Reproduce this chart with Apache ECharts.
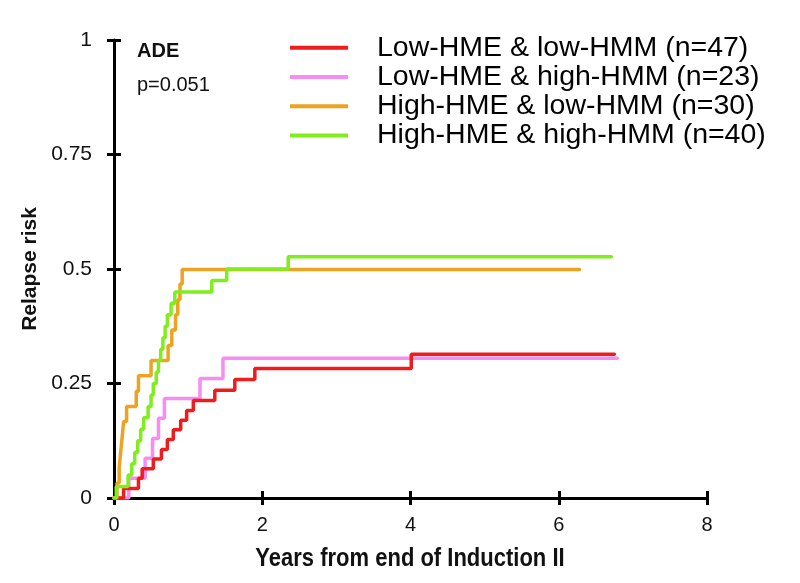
<!DOCTYPE html>
<html>
<head>
<meta charset="utf-8">
<script src="https://cdn.jsdelivr.net/npm/echarts@6/dist/echarts.min.js"></script>
<style>
html,body{margin:0;padding:0;background:#fff;}
#chart{width:800px;height:583px;}
</style>
</head>
<body>
<div id="chart"></div>
<script>
const seriesNames = ['Low-HME & low-HMM (n=47)','Low-HME & high-HMM (n=23)','High-HME & low-HMM (n=30)','High-HME & high-HMM (n=40)'];
const xTicks = [0, 2, 4, 6, 8];
const yTicks = [0, 0.25, 0.5, 0.75, 1];

const redT = [0, 0.13, 0.33, 0.38, 0.53, 0.64, 0.72, 0.80, 0.90, 0.98, 1.07, 1.36, 1.63, 1.90, 4.01, 6.75];
const redV = [0, 0.021, 0.043, 0.064, 0.085, 0.106, 0.128, 0.149, 0.170, 0.191, 0.213, 0.235, 0.259, 0.283, 0.314, 0.314];

const pinkT = [0, 0.20, 0.42, 0.52, 0.60, 0.68, 1.16, 1.47, 6.79];
const pinkV = [0, 0.043, 0.087, 0.130, 0.174, 0.217, 0.261, 0.305, 0.305];

const orangeT = [0, 0.04, 0.07, 0.09, 0.11, 0.13, 0.17, 0.30, 0.33, 0.50, 0.73, 0.78, 0.83, 0.86, 0.89, 0.92, 6.28];
const orangeV = [0, 0.033, 0.067, 0.100, 0.133, 0.167, 0.200, 0.233, 0.267, 0.300, 0.333, 0.367, 0.400, 0.433, 0.467, 0.499, 0.499];

const greenT = [0, 0.03, 0.19, 0.24, 0.28, 0.32, 0.36, 0.40, 0.46, 0.50, 0.53, 0.57, 0.60, 0.63, 0.66, 0.69, 0.72, 0.77, 0.82, 1.32, 1.52, 2.35, 6.71];
const greenV = [0, 0.025, 0.05, 0.075, 0.1, 0.125, 0.15, 0.175, 0.2, 0.225, 0.25, 0.275, 0.3, 0.325, 0.35, 0.375, 0.4, 0.425, 0.45, 0.475, 0.5, 0.527, 0.527];

const colors = ['#ee1c1c', '#f78cf2', '#eca321', '#7fee1c'];

function pairs(t, v){ return t.map((x,i)=>[x, v[i]]); }

const chart = echarts.init(document.getElementById('chart'));
const FONT = '"Liberation Sans", Arial, sans-serif';
const axisLineStyle = {color:'#000', width:3};

function mkSeries(name, t, v, color, z){
  return {
    name: name, type:'line', step:'end', data: pairs(t, v),
    showSymbol:false, symbol:'none', z: z,
    lineStyle:{color: color, width:3.5, cap:'round'},
    itemStyle:{color: color},
    xAxisIndex:0, yAxisIndex:0, animation:false
  };
}

const option = {
  animation:false,
  grid:{left:114, right:93, top:40, bottom:85, containLabel:false},
  legend:{
    orient:'vertical', left:285, top:28,
    icon:'rect', itemWidth:58, itemHeight:4, itemGap:0,
    data: seriesNames,
    textStyle:{fontFamily:FONT, fontSize:28.5, color:'#000', lineHeight:29.3, padding:[0,0,0,24]}
  },
  xAxis:[{
    type:'value', min:0, max:8, interval:2,
    axisLine:{show:true, lineStyle:axisLineStyle},
    axisTick:{show:true, length:7, lineStyle:{color:'#000', width:3}},
    axisLabel:{fontFamily:FONT, fontSize:20, color:'#111', margin:17},
    splitLine:{show:false}
  },{
    type:'value', min:0, max:8, interval:2, position:'bottom',
    axisLine:{show:false},
    axisTick:{show:true, inside:true, length:7, lineStyle:{color:'#000', width:3}},
    axisLabel:{show:false}, splitLine:{show:false}
  }],
  yAxis:[{
    type:'value', min:0, max:1, interval:0.25,
    axisLine:{show:true, lineStyle:axisLineStyle},
    axisTick:{show:true, length:7, lineStyle:{color:'#000', width:3}},
    axisLabel:{fontFamily:FONT, fontSize:21, color:'#111', margin:22},
    splitLine:{show:false},
    name:'Relapse risk', nameLocation:'middle', nameGap:53,
    nameTextStyle:{fontFamily:FONT, fontSize:21, fontWeight:'bold', color:'#111'}
  },{
    type:'value', min:0, max:1, interval:0.25, position:'left',
    axisLine:{show:false},
    axisTick:{show:true, inside:true, length:7, lineStyle:{color:'#000', width:3}},
    axisLabel:{show:false}, splitLine:{show:false}
  }],
  graphic:[
    {type:'text', left:137, top:41, style:{text:'ADE', font:'bold 20px "Liberation Sans", Arial, sans-serif', fill:'#111'}},
    {type:'text', left:137, top:75, style:{text:'p=0.051', font:'20px "Liberation Sans", Arial, sans-serif', fill:'#111'}},
    {type:'text', x:410, y:559, scaleY:1.15,
     style:{text:'Years from end of Induction II', font:'bold 22px "Liberation Sans", Arial, sans-serif', fill:'#111', align:'center', verticalAlign:'middle'}}
  ],
  series:[
    mkSeries(seriesNames[1], pinkT, pinkV, colors[1], 2),
    mkSeries(seriesNames[0], redT, redV, colors[0], 3),
    mkSeries(seriesNames[2], orangeT, orangeV, colors[2], 4),
    mkSeries(seriesNames[3], greenT, greenV, colors[3], 5)
  ]
};
chart.setOption(option);
</script>
</body>
</html>
